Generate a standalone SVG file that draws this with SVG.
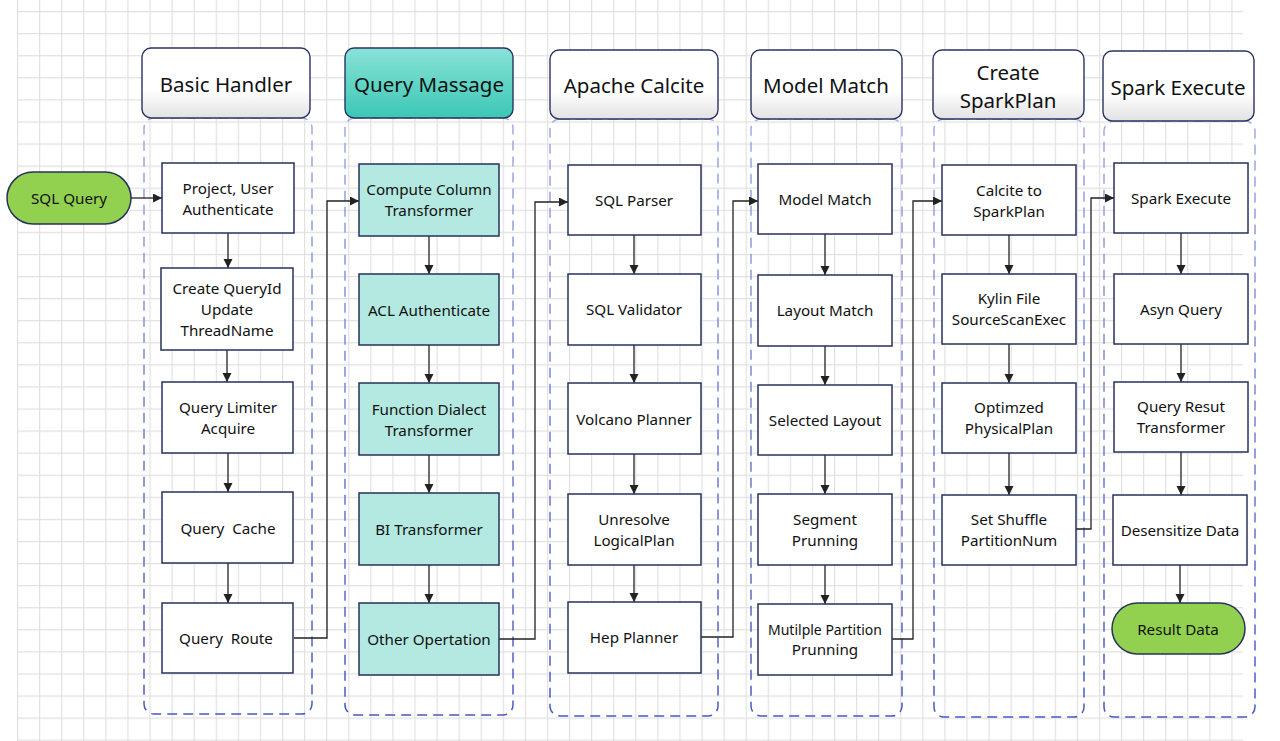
<svg xmlns="http://www.w3.org/2000/svg" width="1280" height="741" viewBox="0 0 1280 741">
<style>
.t{font-family:"Noto Sans","Open Sans","Liberation Sans",sans-serif;fill:#111;text-anchor:middle;dominant-baseline:central;white-space:pre}
.h{font-size:20.5px}
.n{font-size:15.2px}
.s{font-size:14px}
.hd{fill:url(#hg);stroke:#2a3360;stroke-width:1.4}
.hdt{fill:url(#tg);stroke:#2a3360;stroke-width:1.4}
.cont{fill:none;stroke:url(#dg);stroke-width:1.5;stroke-dasharray:10 6}
.box{fill:#fff;stroke:#26325a;stroke-width:1.5}
.tbox{fill:#b3e9e0;stroke:#26325a;stroke-width:1.5}
.pill{fill:#92d050;stroke:#26325a;stroke-width:1.5}
.c{fill:none;stroke:#222;stroke-width:1.3}
.a{marker-end:url(#arr)}
</style>
<defs>
<pattern id="grid" patternUnits="userSpaceOnUse" x="17" y="11" width="22.08" height="22.08">
<path d="M0.5 0V22.08M0 0.5H22.08" fill="none" stroke="#e0e0e0" stroke-width="1.3"/>
</pattern>
<linearGradient id="hg" x1="0" y1="0" x2="0" y2="1">
<stop offset="0" stop-color="#ffffff"/>
<stop offset="0.6" stop-color="#ffffff"/>
<stop offset="1" stop-color="#e2e2e2"/>
</linearGradient>
<linearGradient id="tg" x1="0" y1="0" x2="0" y2="1">
<stop offset="0" stop-color="#88e3d7"/>
<stop offset="1" stop-color="#3cc7b5"/>
</linearGradient>
<linearGradient id="dg" x1="0" y1="0" x2="0" y2="1">
<stop offset="0" stop-color="#a2abe6"/>
<stop offset="1" stop-color="#4858c0"/>
</linearGradient>
<marker id="arr" markerUnits="userSpaceOnUse" markerWidth="10" markerHeight="10" refX="9" refY="4.5" orient="auto">
<path d="M0,0 L9,4.5 L0,9 z" fill="#222"/>
</marker>
</defs>
<rect x="0" y="0" width="1280" height="741" fill="#fff"/>
<rect x="17" y="0" width="1226" height="741" fill="url(#grid)"/>

<g id="containers">
<rect class="cont" x="144" y="118" width="168" height="596" rx="10"/>
<rect class="cont" x="345" y="118" width="168" height="597" rx="10"/>
<rect class="cont" x="550" y="119" width="168" height="597" rx="10"/>
<rect class="cont" x="751" y="119" width="151" height="597" rx="10"/>
<rect class="cont" x="934" y="119" width="150" height="598" rx="10"/>
<rect class="cont" x="1104" y="121" width="151" height="596" rx="10"/>
</g>

<g id="headers">
<g id="h_basic"><rect class="hd" x="142" y="48" width="168" height="70" rx="9"/><text class="t h" x="226" y="84">Basic Handler</text></g>
<g id="h_massage"><rect class="hdt" x="345" y="48" width="168" height="70" rx="9"/><text class="t h" x="429" y="84">Query Massage</text></g>
<g id="h_calcite"><rect class="hd" x="550" y="50" width="168" height="69" rx="9"/><text class="t h" x="634" y="85">Apache Calcite</text></g>
<g id="h_model"><rect class="hd" x="751" y="50" width="151" height="69" rx="9"/><text class="t h" x="826" y="85">Model Match</text></g>
<g id="h_spark"><rect class="hd" x="933" y="50" width="151" height="69" rx="9"/><text class="t h" x="1008" y="72">Create</text><text class="t h" x="1008" y="100">SparkPlan</text></g>
<g id="h_exec"><rect class="hd" x="1103" y="51" width="151" height="70" rx="9"/><text class="t h" x="1178" y="87">Spark Execute</text></g>
</g>

<g id="connectors">
<line class="c a" x1="131" y1="198" x2="162" y2="198"/>
<polyline class="c a" points="294,638 327,638 327,201 359,201"/>
<polyline class="c a" points="499,639 535,639 535,202 568,202"/>
<polyline class="c a" points="701,637 733,637 733,201 758,201"/>
<polyline class="c a" points="892,639 913,639 913,201 942,201"/>
<polyline class="c a" points="1076,529 1091,529 1091,198 1114,198"/>
<line class="c a" x1="228" y1="233" x2="228" y2="268"/>
<line class="c a" x1="227" y1="350" x2="227" y2="382"/>
<line class="c a" x1="228" y1="453" x2="228" y2="492"/>
<line class="c a" x1="228" y1="563" x2="228" y2="603"/>
<line class="c a" x1="429" y1="236" x2="429" y2="274"/>
<line class="c a" x1="429" y1="345" x2="429" y2="383"/>
<line class="c a" x1="429" y1="455" x2="429" y2="493"/>
<line class="c a" x1="429" y1="565" x2="429" y2="603"/>
<line class="c a" x1="634" y1="235" x2="634" y2="274"/>
<line class="c a" x1="634" y1="345" x2="634" y2="383"/>
<line class="c a" x1="634" y1="454" x2="634" y2="494"/>
<line class="c a" x1="634" y1="565" x2="634" y2="602"/>
<line class="c a" x1="825" y1="234" x2="825" y2="275"/>
<line class="c a" x1="825" y1="346" x2="825" y2="385"/>
<line class="c a" x1="825" y1="455" x2="825" y2="494"/>
<line class="c a" x1="825" y1="565" x2="825" y2="604"/>
<line class="c a" x1="1009" y1="235" x2="1009" y2="274"/>
<line class="c a" x1="1009" y1="344" x2="1009" y2="383"/>
<line class="c a" x1="1009" y1="453" x2="1009" y2="495"/>
<line class="c a" x1="1181" y1="233" x2="1181" y2="274"/>
<line class="c a" x1="1181" y1="344" x2="1181" y2="382"/>
<line class="c a" x1="1181" y1="452" x2="1181" y2="495"/>
<line class="c a" x1="1180" y1="565" x2="1180" y2="603"/>
</g>

<g id="n_sql"><rect class="pill" x="7" y="172" width="124" height="52" rx="26"/><text class="t n" x="69" y="198">SQL Query</text></g>

<g id="n_auth"><rect class="box" x="162" y="163" width="132" height="70"/><text class="t n" x="228" y="188">Project, User</text><text class="t n" x="228" y="209">Authenticate</text></g>
<g id="n_queryid"><rect class="box" x="161" y="268" width="132" height="82"/><text class="t n" x="227" y="288">Create QueryId</text><text class="t n" x="227" y="309">Update</text><text class="t n" x="227" y="330">ThreadName</text></g>
<g id="n_limiter"><rect class="box" x="162" y="382" width="131" height="71"/><text class="t n" x="228" y="407">Query Limiter</text><text class="t n" x="228" y="428">Acquire</text></g>
<g id="n_cache"><rect class="box" x="162" y="492" width="131" height="71"/><text class="t n" x="228" y="528">Query  Cache</text></g>
<g id="n_route"><rect class="box" x="162" y="603" width="131" height="70"/><text class="t n" x="226" y="638">Query  Route</text></g>

<g id="n_cc"><rect class="tbox" x="359" y="164" width="140" height="72"/><text class="t n" x="429" y="189">Compute Column</text><text class="t n" x="429" y="210">Transformer</text></g>
<g id="n_acl"><rect class="tbox" x="359" y="274" width="140" height="71"/><text class="t n" x="429" y="310">ACL Authenticate</text></g>
<g id="n_fd"><rect class="tbox" x="359" y="383" width="140" height="72"/><text class="t n" x="429" y="409">Function Dialect</text><text class="t n" x="429" y="430">Transformer</text></g>
<g id="n_bi"><rect class="tbox" x="359" y="493" width="140" height="72"/><text class="t n" x="429" y="529">BI Transformer</text></g>
<g id="n_other"><rect class="tbox" x="359" y="603" width="140" height="72"/><text class="t n" x="429" y="639">Other Opertation</text></g>

<g id="n_parser"><rect class="box" x="568" y="165" width="133" height="70"/><text class="t n" x="634" y="200">SQL Parser</text></g>
<g id="n_validator"><rect class="box" x="568" y="274" width="133" height="71"/><text class="t n" x="634" y="309">SQL Validator</text></g>
<g id="n_volcano"><rect class="box" x="568" y="383" width="133" height="71"/><text class="t n" x="634" y="419">Volcano Planner</text></g>
<g id="n_unresolve"><rect class="box" x="568" y="494" width="133" height="71"/><text class="t n" x="634" y="519">Unresolve</text><text class="t n" x="634" y="540">LogicalPlan</text></g>
<g id="n_hep"><rect class="box" x="568" y="602" width="133" height="71"/><text class="t n" x="634" y="637">Hep Planner</text></g>

<g id="n_mm"><rect class="box" x="758" y="164" width="134" height="70"/><text class="t n" x="825" y="199">Model Match</text></g>
<g id="n_lm"><rect class="box" x="758" y="275" width="134" height="71"/><text class="t n" x="825" y="310">Layout Match</text></g>
<g id="n_sl"><rect class="box" x="758" y="385" width="134" height="70"/><text class="t n" x="825" y="420">Selected Layout</text></g>
<g id="n_seg"><rect class="box" x="758" y="494" width="134" height="71"/><text class="t n" x="825" y="519">Segment</text><text class="t n" x="825" y="540">Prunning</text></g>
<g id="n_mp"><rect class="box" x="758" y="604" width="134" height="71"/><text class="t s" x="825" y="629">Mutilple Partition</text><text class="t n" x="825" y="649">Prunning</text></g>

<g id="n_c2s"><rect class="box" x="942" y="165" width="134" height="70"/><text class="t n" x="1009" y="190">Calcite to</text><text class="t n" x="1009" y="211">SparkPlan</text></g>
<g id="n_kylin"><rect class="box" x="942" y="274" width="134" height="70"/><text class="t n" x="1009" y="298">Kylin File</text><text class="t n" x="1009" y="319">SourceScanExec</text></g>
<g id="n_opt"><rect class="box" x="942" y="383" width="134" height="70"/><text class="t n" x="1009" y="407">Optimzed</text><text class="t n" x="1009" y="428">PhysicalPlan</text></g>
<g id="n_shuffle"><rect class="box" x="942" y="495" width="134" height="70"/><text class="t n" x="1009" y="519">Set Shuffle</text><text class="t n" x="1009" y="540">PartitionNum</text></g>

<g id="n_se"><rect class="box" x="1114" y="163" width="134" height="70"/><text class="t n" x="1181" y="198">Spark Execute</text></g>
<g id="n_asyn"><rect class="box" x="1114" y="274" width="134" height="70"/><text class="t n" x="1181" y="309">Asyn Query</text></g>
<g id="n_qrt"><rect class="box" x="1114" y="382" width="134" height="70"/><text class="t n" x="1181" y="406">Query Resut</text><text class="t n" x="1181" y="427">Transformer</text></g>
<g id="n_des"><rect class="box" x="1113" y="495" width="134" height="70"/><text class="t n" x="1180" y="530">Desensitize Data</text></g>
<g id="n_result"><rect class="pill" x="1112" y="603" width="133" height="51" rx="25.5"/><text class="t n" x="1178" y="629">Result Data</text></g>
</svg>
